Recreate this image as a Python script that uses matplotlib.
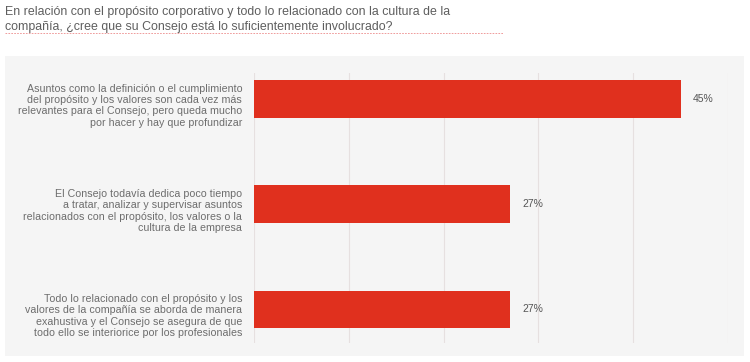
import matplotlib.pyplot as plt
from matplotlib.lines import Line2D
from matplotlib.transforms import ScaledTranslation

title = ("En relación con el propósito corporativo y todo lo relacionado con la cultura de la\n"
         "compañía, ¿cree que su Consejo está lo suficientemente involucrado?")
categories = [
    "Asuntos como la definición o el cumplimiento\ndel propósito y los valores son cada vez más\nrelevantes para el Consejo, pero queda mucho\npor hacer y hay que profundizar",
    "El Consejo todavía dedica poco tiempo\na tratar, analizar y supervisar asuntos\nrelacionados con el propósito, los valores o la\ncultura de la empresa",
    "Todo lo relacionado con el propósito y los\nvalores de la compañía se aborda de manera\nexahustiva y el Consejo se asegura de que\ntodo ello se interiorice por los profesionales",
]
values = [45, 27, 27]
value_labels = ["45%", "27%", "27%"]
grid_ticks = [0, 10, 20, 30, 40, 50]

W, H = 750, 362
fig = plt.figure(figsize=(W/100, H/100), dpi=100)
fig.patch.set_facecolor("white")

# gray panel (background axes)
bg = fig.add_axes([5/W, 1-356/H, (744-5)/W, (356-56)/H], zorder=-1)
bg.set_facecolor("#f5f5f5")
bg.set_xticks([]); bg.set_yticks([])
for s in bg.spines.values():
    s.set_visible(False)

fig.text(5/W, 1-6/H, title, ha="left", va="top", fontsize=8.9,
         color="#5e5e5e", family="Liberation Sans", linespacing=1.28)
fig.lines.append(Line2D([5/W, 503/W], [1-32.5/H, 1-32.5/H], transform=fig.transFigure,
                        color="#ec8c8c", lw=0.6, linestyle=(0, (2, 1.5))))

ax = fig.add_axes([254/W, 1-343/H, (728-254)/W, (343-73)/H], zorder=1)
ax.set_facecolor("none")
y = list(range(len(values)))
ax.barh(y, values, height=0.36, color="#e0301e", zorder=3)
ax.set_xlim(0, 49.9)
ax.set_ylim(2.319, -0.248)
ax.set_xticks(grid_ticks)
ax.xaxis.grid(True, color="#e6e0e0", lw=0.8, zorder=0)
ax.tick_params(axis="x", length=0, labelbottom=False)
ax.tick_params(axis="y", length=0, pad=8.5)
ax.set_yticks(y)
ax.set_yticklabels(categories, fontsize=7.65, color="#6d6d6d", family="Liberation Sans",
                   linespacing=1.17)
offset = ScaledTranslation(0, -5/100, fig.dpi_scale_trans)
for lbl in ax.get_yticklabels():
    lbl.set_transform(lbl.get_transform() + offset)
for s in ax.spines.values():
    s.set_visible(False)
for yi, v, lab in zip(y, values, value_labels):
    ax.text(v + 1.3, yi, lab, va="center", ha="left", fontsize=7.5, color="#555555",
            family="Liberation Sans")

fig.savefig("out.png", dpi=100)
